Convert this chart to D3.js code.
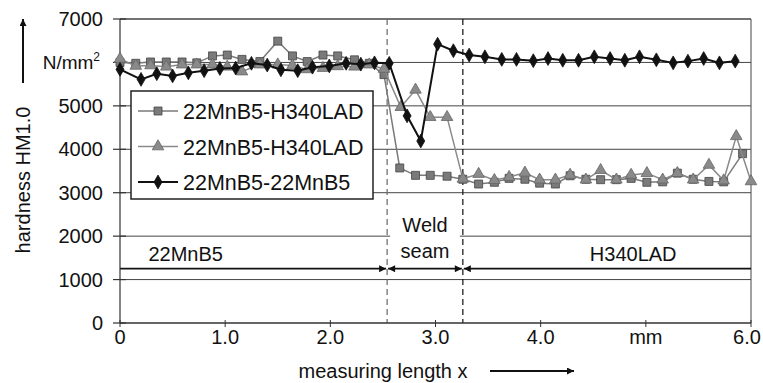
<!DOCTYPE html>
<html>
<head>
<meta charset="utf-8">
<script src="https://cdn.jsdelivr.net/npm/d3@7"></script>
<style>
  body { margin: 0; background: #fff; }
  text { font-family: 'Liberation Sans', Arial, sans-serif; fill: #111; }
</style>
</head>
<body>
<div id="chart"></div>
<script>
// hardness profile across the weld, three specimen pairs
var xSquare = [0, 0.15, 0.29, 0.44, 0.59, 0.73, 0.88, 1.02, 1.16, 1.33, 1.5, 1.64, 1.78, 1.93, 2.07, 2.23, 2.37, 2.51, 2.66, 2.81, 2.95, 3.11, 3.26, 3.41, 3.56, 3.7, 3.85, 3.99, 4.14, 4.28, 4.43, 4.57, 4.72, 4.86, 5.01, 5.16, 5.3, 5.45, 5.6, 5.74, 5.92]
var hardSquare = [6000, 5980, 6010, 6010, 6010, 5990, 6150, 6170, 6070, 6020, 6490, 6150, 6020, 6170, 6150, 6060, 5980, 5720, 3570, 3400, 3400, 3380, 3310, 3200, 3240, 3330, 3310, 3220, 3200, 3390, 3310, 3300, 3300, 3330, 3240, 3250, 3450, 3310, 3260, 3250, 3900]

var xTriangle = [0, 0.15, 0.29, 0.44, 0.59, 0.73, 0.88, 1.02, 1.16, 1.33, 1.5, 1.64, 1.78, 1.93, 2.07, 2.23, 2.37, 2.51, 2.67, 2.81, 2.95, 3.11, 3.26, 3.41, 3.56, 3.7, 3.85, 3.99, 4.14, 4.28, 4.43, 4.57, 4.72, 4.86, 5.01, 5.16, 5.3, 5.45, 5.6, 5.74, 5.86, 6.0]
var hardTriangle = [6080, 5920, 5930, 5900, 5950, 5950, 5950, 5900, 5790, 5950, 5950, 5930, 5840, 5870, 5910, 5900, 5950, 5850, 4970, 5370, 4740, 4740, 3320, 3430, 3290, 3360, 3460, 3300, 3300, 3410, 3300, 3520, 3300, 3410, 3450, 3300, 3450, 3300, 3640, 3280, 4300, 3260]

var xDiamond = [0, 0.2, 0.35, 0.5, 0.65, 0.8, 0.95, 1.1, 1.25, 1.4, 1.53, 1.69, 1.83, 1.99, 2.15, 2.29, 2.42, 2.56, 2.73, 2.86, 3.02, 3.17, 3.32, 3.47, 3.63, 3.77, 3.93, 4.07, 4.21, 4.36, 4.51, 4.66, 4.8, 4.94, 5.1, 5.26, 5.4, 5.55, 5.7, 5.85]
var hardDiamond = [5840, 5610, 5740, 5690, 5760, 5810, 5860, 5870, 5980, 5940, 5830, 5810, 5890, 5920, 5980, 5960, 5990, 5980, 4770, 4190, 6420, 6270, 6170, 6130, 6070, 6070, 6040, 6090, 6050, 6050, 6130, 6090, 6050, 6130, 6060, 5990, 6030, 6090, 5990, 6030]

var seriesNames = ['22MnB5-H340LAD', '22MnB5-H340LAD', '22MnB5-22MnB5']

var yTicks = [0, 1000, 2000, 3000, 4000, 5000, 7000]
var xTicks = [0, 1, 2, 3, 4, 5, 6]
var xTickLabels = ['0', '1.0', '2.0', '3.0', '4.0', 'mm', '6.0']

// zone borders (mm) and the level of the zone arrows
var seamStart = 2.54
var seamEnd = 3.26
var zoneLevel = 1250
var zoneNames = ['22MnB5', 'H340LAD']

var width = 763
var height = 383

var svg = d3
  .select('#chart')
  .append('svg')
  .attr('width', width)
  .attr('height', height)

var xScale = d3.scaleLinear().domain([0, 6]).range([120, 751])
var yScale = d3.scaleLinear().domain([0, 7000]).range([323, 19])

var defs = svg.append('defs')
function arrowMarker(id, color) {
  defs
    .append('marker')
    .attr('id', id)
    .attr('viewBox', '0 0 10 10')
    .attr('refX', 10)
    .attr('refY', 5)
    .attr('markerWidth', 11)
    .attr('markerHeight', 7)
    .attr('markerUnits', 'userSpaceOnUse')
    .attr('orient', 'auto-start-reverse')
    .append('path')
    .attr('d', 'M0,0L10,5L0,10z')
    .attr('fill', color)
}
arrowMarker('arrow', '#111')

// grid lines
svg
  .selectAll('.grid')
  .data([1000, 2000, 3000, 4000, 5000, 6000, 7000])
  .enter()
  .append('line')
  .attr('class', 'grid')
  .attr('x1', xScale(0))
  .attr('x2', xScale(6))
  .attr('y1', d => yScale(d))
  .attr('y2', d => yScale(d))
  .attr('stroke', '#444')
  .attr('stroke-width', d => (d === 7000 ? 1.3 : 1))

// right frame
svg
  .append('line')
  .attr('x1', xScale(6))
  .attr('x2', xScale(6))
  .attr('y1', yScale(7000))
  .attr('y2', yScale(0))
  .attr('stroke', '#444')

// seam borders
svg
  .selectAll('.seam')
  .data([seamStart, seamEnd])
  .enter()
  .append('line')
  .attr('class', 'seam')
  .attr('x1', d => xScale(d))
  .attr('x2', d => xScale(d))
  .attr('y1', yScale(7000))
  .attr('y2', yScale(0))
  .attr('stroke', (d, i) => (i === 0 ? '#666' : '#111'))
  .attr('stroke-width', 1.2)
  .attr('stroke-dasharray', '6,4')

// white space behind the seam label
svg
  .append('rect')
  .attr('x', xScale(seamStart) + 3)
  .attr('y', yScale(2000) - 6)
  .attr('width', xScale(seamEnd) - xScale(seamStart) - 6)
  .attr('height', 12)
  .attr('fill', '#fff')

// zone arrows
var zy = yScale(zoneLevel)
svg
  .append('line')
  .attr('x1', xScale(0))
  .attr('x2', xScale(seamStart) - 1)
  .attr('y1', zy)
  .attr('y2', zy)
  .attr('stroke', '#111')
  .attr('stroke-width', 1.8)
  .attr('marker-end', 'url(#arrow)')
svg
  .append('line')
  .attr('x1', xScale(seamStart) + 1)
  .attr('x2', xScale(seamEnd) - 1)
  .attr('y1', zy)
  .attr('y2', zy)
  .attr('stroke', '#111')
  .attr('stroke-width', 1.8)
  .attr('marker-start', 'url(#arrow)')
  .attr('marker-end', 'url(#arrow)')
svg
  .append('line')
  .attr('x1', xScale(seamEnd) + 1)
  .attr('x2', xScale(6))
  .attr('y1', zy)
  .attr('y2', zy)
  .attr('stroke', '#111')
  .attr('stroke-width', 1.8)
  .attr('marker-start', 'url(#arrow)')

svg
  .append('text')
  .attr('x', xScale(0.27))
  .attr('y', zy - 8)
  .attr('font-size', 20)
  .text(zoneNames[0])
svg
  .append('text')
  .attr('x', xScale(4.88))
  .attr('y', zy - 8)
  .attr('text-anchor', 'middle')
  .attr('font-size', 20)
  .text(zoneNames[1])
var weld = svg
  .append('text')
  .attr('text-anchor', 'middle')
  .attr('font-size', 20)
weld
  .append('tspan')
  .attr('x', (xScale(seamStart) + xScale(seamEnd)) / 2)
  .attr('y', 232)
  .text('Weld')
weld
  .append('tspan')
  .attr('x', (xScale(seamStart) + xScale(seamEnd)) / 2)
  .attr('y', 258)
  .text('seam')

// y axis
svg
  .append('line')
  .attr('x1', xScale(0))
  .attr('x2', xScale(0))
  .attr('y1', yScale(7000))
  .attr('y2', yScale(0))
  .attr('stroke', '#333')
  .attr('stroke-width', 1.2)
svg
  .selectAll('.ytick')
  .data(yTicks.concat([6000]))
  .enter()
  .append('line')
  .attr('class', 'ytick')
  .attr('x1', xScale(0) - 7)
  .attr('x2', xScale(0) + 6)
  .attr('y1', d => yScale(d))
  .attr('y2', d => yScale(d))
  .attr('stroke', '#333')
  .attr('stroke-width', 1.2)
svg
  .selectAll('.ylabel')
  .data(yTicks)
  .enter()
  .append('text')
  .attr('class', 'ylabel')
  .attr('x', xScale(0) - 17)
  .attr('y', d => yScale(d) + 7)
  .attr('text-anchor', 'end')
  .attr('font-size', 20)
  .text(d => d)

var unit = svg
  .append('text')
  .attr('x', xScale(0) - 20)
  .attr('y', yScale(6000) + 7)
  .attr('text-anchor', 'end')
  .attr('font-size', 19)
unit.append('tspan').text('N/mm')
unit
  .append('tspan')
  .attr('dy', -8)
  .attr('font-size', 12)
  .text('2')

svg
  .append('text')
  .attr('transform', 'translate(30,180) rotate(-90)')
  .attr('text-anchor', 'middle')
  .attr('font-size', 20)
  .text('hardness HM1.0')
svg
  .append('line')
  .attr('x1', 23)
  .attr('x2', 23)
  .attr('y1', 83)
  .attr('y2', 19)
  .attr('stroke', '#111')
  .attr('stroke-width', 2)
  .attr('marker-end', 'url(#arrow)')

// x axis
svg
  .append('line')
  .attr('x1', xScale(0))
  .attr('x2', xScale(6))
  .attr('y1', yScale(0))
  .attr('y2', yScale(0))
  .attr('stroke', '#333')
  .attr('stroke-width', 1.5)
svg
  .selectAll('.xtick')
  .data(xTicks)
  .enter()
  .append('line')
  .attr('class', 'xtick')
  .attr('x1', d => xScale(d))
  .attr('x2', d => xScale(d))
  .attr('y1', yScale(0) - 3)
  .attr('y2', yScale(0) + 4)
  .attr('stroke', '#333')
svg
  .selectAll('.xlabel')
  .data(xTicks)
  .enter()
  .append('text')
  .attr('class', 'xlabel')
  .attr('x', d => xScale(d))
  .attr('dx', d => (d === 6 ? -4 : 0))
  .attr('y', 344)
  .attr('text-anchor', 'middle')
  .attr('font-size', 20)
  .text((d, i) => xTickLabels[i])

svg
  .append('text')
  .attr('x', 383)
  .attr('y', 378)
  .attr('text-anchor', 'middle')
  .attr('font-size', 20)
  .text('measuring length x')
svg
  .append('line')
  .attr('x1', 490)
  .attr('x2', 574)
  .attr('y1', 371)
  .attr('y2', 371)
  .attr('stroke', '#111')
  .attr('stroke-width', 1.8)
  .attr('marker-end', 'url(#arrow)')

// series
var series = [
  { x: xSquare, v: hardSquare, line: '#7a7a7a', fill: '#7a7a7a', stroke: '#444', shape: d3.symbolSquare, size: 64, width: 1.5 },
  { x: xTriangle, v: hardTriangle, line: '#8a8a8a', fill: '#8a8a8a', stroke: '#666', shape: d3.symbolTriangle, size: 58, width: 1.5 },
  { x: xDiamond, v: hardDiamond, line: '#111', fill: '#111', stroke: '#111', shape: d3.symbolDiamond, size: 55, width: 2 }
]

var line = d3
  .line()
  .x(d => xScale(d[0]))
  .y(d => yScale(d[1]))

series.forEach(s => {
  var pts = s.x.map((x, i) => [x, s.v[i]])
  var g = svg.append('g')
  g.append('path')
    .datum(pts)
    .attr('d', line)
    .attr('fill', 'none')
    .attr('stroke', s.line)
    .attr('stroke-width', s.width)
  g.selectAll('path.pt')
    .data(pts)
    .enter()
    .append('path')
    .attr('class', 'pt')
    .attr('transform', d => 'translate(' + xScale(d[0]) + ',' + yScale(d[1]) + ')')
    .attr('d', d3.symbol().type(s.shape).size(s.size))
    .attr('fill', s.fill)
    .attr('stroke', s.stroke)
    .attr('stroke-width', 0.8)
})

// legend
var legend = svg.append('g').attr('transform', 'translate(131,91)')
legend
  .append('rect')
  .attr('width', 242)
  .attr('height', 108)
  .attr('fill', '#fff')
  .attr('stroke', '#222')
  .attr('stroke-width', 1.5)
var rows = legend
  .selectAll('.row')
  .data(series)
  .enter()
  .append('g')
  .attr('class', 'row')
  .attr('transform', (d, i) => 'translate(0,' + (20 + i * 35.5) + ')')
rows
  .append('line')
  .attr('x1', 7)
  .attr('x2', 47)
  .attr('stroke', d => d.line)
  .attr('stroke-width', d => d.width)
rows
  .append('path')
  .attr('transform', 'translate(27,0)')
  .attr('d', d => d3.symbol().type(d.shape).size(d.size)())
  .attr('fill', d => d.fill)
  .attr('stroke', d => d.stroke)
  .attr('stroke-width', 0.8)
rows
  .append('text')
  .attr('x', 52)
  .attr('y', 8)
  .attr('font-size', 21.5)
  .text((d, i) => seriesNames[i])
</script>
</body>
</html>
